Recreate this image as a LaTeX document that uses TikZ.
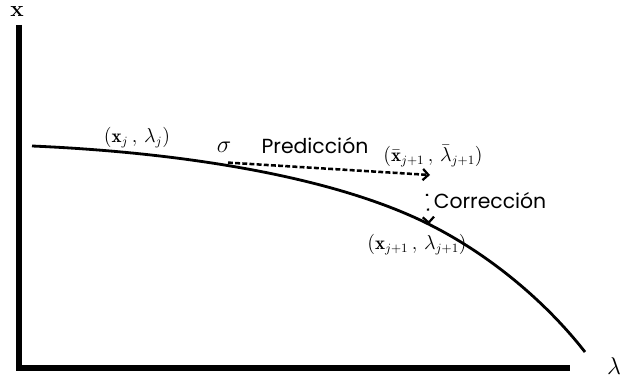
\documentclass[tikz,border=0pt]{standalone}
\usepackage{fontspec}
\newfontfamily\gothic{Poppins}
\usetikzlibrary{arrows.meta}

\begin{document}
\begin{tikzpicture}[>={Straight Barb[length=4pt,width=8pt,line width=1.6pt]},
    axis/.style={line width=4.6pt, line join=miter},
    txt/.style={font=\gothic\fontsize{14.5}{16}\selectfont},
    lbl/.style={font=\fontsize{13.5}{15}\selectfont, inner sep=0pt}]
      \useasboundingbox (0,0) rectangle (15.6,9.725);

      % axes
      \coordinate (o) at (0.475,0.525);
      \coordinate (ytop) at (0.475,9.1);
      \coordinate (xend) at (14.25,0.525);
      \draw[axis] (ytop) -- (o) -- (xend);
      \node[font=\bfseries\fontsize{16}{18}\selectfont, inner sep=0pt] (xlab) at (0.425,9.43) {x};
      \node[font=\fontsize{17}{19}\selectfont, inner sep=0pt] (lamlab) at (15.35,0.575) {$\lambda$};

      \coordinate (pj) at (5.7,5.66);
      \coordinate (pred) at (10.75,5.35);
      \coordinate (cs) at (10.675,4.88);
      \coordinate (pj1) at (10.72,4.12);

      % solution curve
      \draw[line width=2pt] (0.8,6.075) .. controls (4.3,5.925) and (8.22,5.37) .. (pj1)
            .. controls (12.22,3.37) and (13.625,2.205) .. (14.625,0.925);

      % predictor and corrector
      \draw[->, line width=1.8pt, dash pattern=on 3.5pt off 1.6pt] (pj) -- (pred);
      \draw[->, line width=1.6pt, dash pattern=on 1.5pt off 9pt] (cs) -- (pj1);

      % labels
      \node[lbl] (lj) at (3.425,6.275) {$\bigl(\mathbf{x}_j\,,\,\lambda_j\bigr)$};
      \node[font=\fontsize{17}{19}\selectfont, inner sep=0pt] (sig) at (5.6,6.04) {$\sigma$};
      \node[txt] (predtxt) at (7.875,6.09) {Predicción};
      \node[lbl] (lbar) at (10.825,5.82) {$\bigl(\bar{\mathbf{x}}_{j+1}\,,\,\bar{\lambda}_{j+1}\bigr)$};
      \node[txt] (cortxt) at (12.25,4.7) {Corrección};
      \node[lbl] (lj1) at (10.425,3.6) {$\bigl(\mathbf{x}_{j+1}\,,\,\lambda_{j+1}\bigr)$};
\end{tikzpicture}
\end{document}
